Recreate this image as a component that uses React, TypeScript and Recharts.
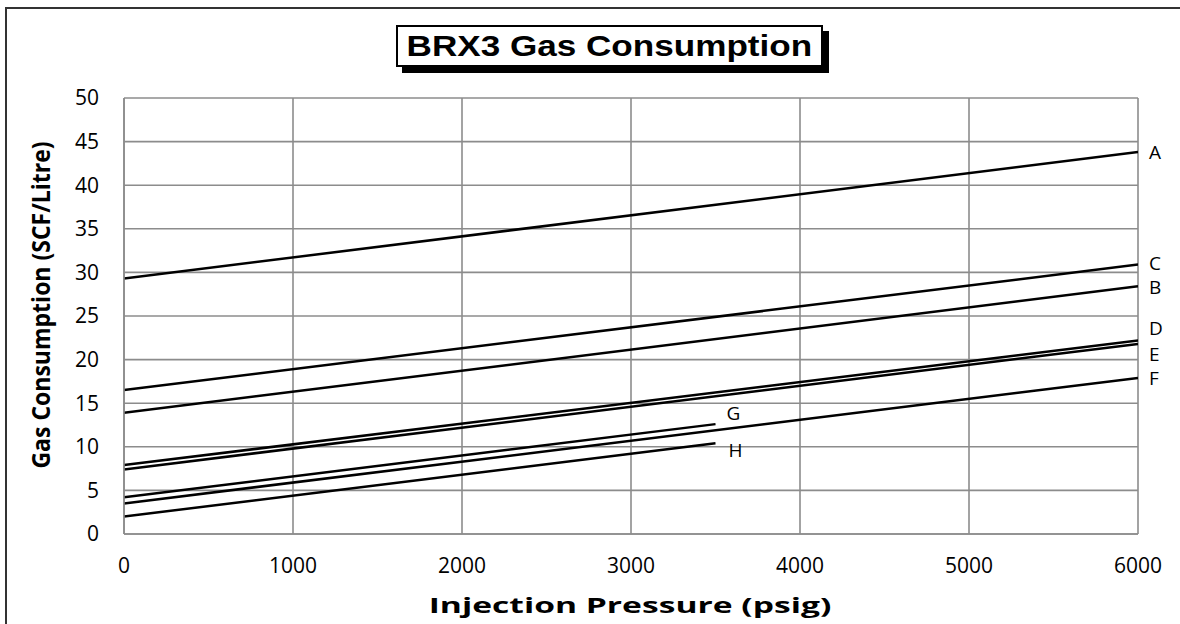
import { LineChart, Line, XAxis, YAxis, CartesianGrid, LabelList } from "recharts"

const GRID = "#8c8c8c"
const FONT = "'Open Sans', sans-serif"
const TITLE_FONT = "'Liberation Sans', Arial, sans-serif"

// injection pressure (psig) at the ends of each line
const pressureFull = [0, 6000]
const pressureShort = [0, 3500]

const xTicks = [0, 1000, 2000, 3000, 4000, 5000, 6000]
const yTicks = [0, 5, 10, 15, 20, 25, 30, 35, 40, 45, 50]

// gas consumption (SCF/Litre)
const lineA = [29.3, 43.8]
const lineB = [13.9, 28.4]
const lineC = [16.5, 30.9]
const lineD = [7.9, 22.2]
const lineE = [7.4, 21.8]
const lineF = [3.5, 17.9]
const lineG = [4.2, 12.6]
const lineH = [2.0, 10.4]

const series = [
  { name: "A", xs: pressureFull, ys: lineA },
  { name: "B", xs: pressureFull, ys: lineB },
  { name: "C", xs: pressureFull, ys: lineC },
  { name: "D", xs: pressureFull, ys: lineD },
  { name: "E", xs: pressureFull, ys: lineE },
  { name: "F", xs: pressureFull, ys: lineF },
  { name: "G", xs: pressureShort, ys: lineG },
  { name: "H", xs: pressureShort, ys: lineH },
]

// where each end label sits relative to the line end
const NUDGE: Record<string, [number, number]> = {
  A: [11, 0], B: [11, 1], C: [11, -2], D: [11, -12],
  E: [11, 10], F: [11, 0], G: [11, -11], H: [13, 7],
}

function endLabel(name: string, last: number) {
  return (p: any) => {
    if (p.index !== last) return null
    const [dx, dy] = NUDGE[name]
    return (
      <text x={p.x + dx} y={p.y + dy} dominantBaseline="central" fontSize={19} fontFamily={FONT} fill="#000">
        {name}
      </text>
    )
  }
}

export default function App() {
  return (
    <div style={{ position: "absolute", left: 0, top: 0, width: 1180, height: 624, overflow: "hidden", background: "#fff" }}>
      <div style={{ position: "absolute", left: 5, top: 7, width: 1300, height: 700, borderLeft: "2px solid #333", borderTop: "2px solid #333" }} />

      <LineChart width={1180} height={624} margin={{ top: 98, right: 42, bottom: 60, left: 64 }}>
        <CartesianGrid stroke={GRID} strokeWidth={1.6} />
        <XAxis
          type="number"
          dataKey="p"
          domain={[0, 6000]}
          ticks={xTicks}
          allowDataOverflow
          height={30}
          tickLine={false}
          tickSize={0}
          tickMargin={24}
          axisLine={{ stroke: GRID, strokeWidth: 1.6 }}
          tick={{ fontSize: 21, fontFamily: FONT, fill: "#000" }}
        />
        <YAxis
          type="number"
          domain={[0, 50]}
          ticks={yTicks}
          width={60}
          tickLine={false}
          tickSize={0}
          tickMargin={25}
          axisLine={{ stroke: GRID, strokeWidth: 1.6 }}
          tick={{ fontSize: 21, fontFamily: FONT, fill: "#000" }}
        />
        {series.map((s) => {
          const pts = s.xs.map((x, i) => ({ p: x, v: s.ys[i] }))
          return (
            <Line
              key={s.name}
              data={pts}
              dataKey="v"
              type="linear"
              stroke="#000"
              strokeWidth={2.5}
              dot={false}
              isAnimationActive={false}
            >
              <LabelList dataKey="v" content={endLabel(s.name, pts.length - 1)} />
            </Line>
          )
        })}
      </LineChart>

      {/* title box with hard shadow */}
      <div
        style={{
          position: "absolute", left: 396, top: 25, width: 423, height: 38,
          border: "2px solid #000", background: "#fff", boxShadow: "6px 6px 0 #000",
          display: "flex", alignItems: "center", justifyContent: "center",
        }}
      >
        <span style={{ display: "inline-block", fontFamily: TITLE_FONT, fontWeight: 700, fontSize: 30, lineHeight: "34px", transform: "scaleX(1.17)", whiteSpace: "nowrap" }}>
          BRX3 Gas Consumption
        </span>
      </div>

      <div
        style={{
          position: "absolute", left: 630, top: 605, transform: "translate(-50%, -50%) scale(1.6, 1)",
          fontFamily: FONT, fontWeight: 700, fontSize: 21, whiteSpace: "nowrap",
        }}
      >
        Injection Pressure (psig)
      </div>

      <div
        style={{
          position: "absolute", left: 40, top: 305, transform: "translate(-50%, -50%) scale(1.12, 1) rotate(-90deg)",
          fontFamily: FONT, fontWeight: 700, fontSize: 23, whiteSpace: "nowrap",
        }}
      >
        Gas Consumption (SCF/Litre)
      </div>
    </div>
  )
}
